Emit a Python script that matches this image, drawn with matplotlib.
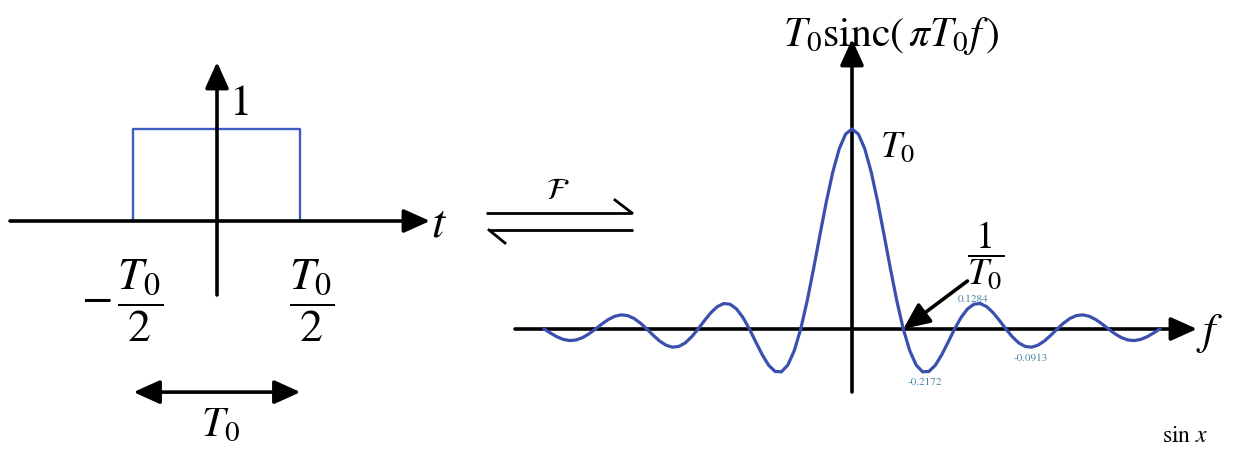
import numpy as np
import matplotlib.pyplot as plt

plt.rcParams['mathtext.fontset'] = 'stix'
plt.rcParams['font.family'] = ['STIXGeneral', 'DejaVu Serif']

# rectangular pulse, t in units of T0
rect_t = [-0.5, -0.5, 0.5, 0.5]
rect_v = [0.0, 1.0, 1.0, 0.0]

# spectrum, f in units of 1/T0 (right half read every 1/8, curve is symmetric)
f_step = 0.125
spec_right = [1.0, 0.9745, 0.9003, 0.7842, 0.6366, 0.4705, 0.3001, 0.1392,
              0.0, -0.1083, -0.1801, -0.2139, -0.2122, -0.1810, -0.1286, -0.0650,
              0.0, 0.0573, 0.1000, 0.1238, 0.1273, 0.1120, 0.0818, 0.0424,
              0.0, -0.0390, -0.0693, -0.0871, -0.0909, -0.0811, -0.0600, -0.0314,
              0.0, 0.0295, 0.0530, 0.0672, 0.0707, 0.0636, 0.0474, 0.0250,
              0.0, -0.0238, -0.0429, -0.0547, -0.0579, -0.0523, -0.0391, -0.0207,
              0.0]
spec_vals = spec_right[:0:-1] + spec_right
spec_f = (np.arange(len(spec_vals)) - (len(spec_right) - 1)) * f_step

# labelled extrema: (f, value, text)
ext_f = [2.36, 1.42, 3.49]
ext_v = [0.155, -0.26, -0.14]
ext_txt = ['0.1284', '-0.2172', '-0.0913']

W, H = 1235, 452
fig = plt.figure(figsize=(W / 100, H / 100), dpi=100)

blue_l = '#3d5cc4'
blue_r = '#3b4fae'
teal = '#4a86a3'
ahead = '-|>,head_length=0.8,head_width=0.36'

def arrow(ax, start, tip, lw=2.6, style=ahead, ms=20):
    ax.annotate('', xy=tip, xytext=start,
                arrowprops=dict(arrowstyle=style, lw=lw, color='k',
                                mutation_scale=ms, shrinkA=0, shrinkB=0))

# ---- background pixel axes for the transform symbol
ax0 = fig.add_axes([0, 0, 1, 1])
ax0.set_xlim(0, W)
ax0.set_ylim(H, 0)
ax0.axis('off')
ax0.plot([486, 632], [214, 214], color='k', lw=2.0, solid_capstyle='butt')
ax0.plot([632, 615], [214, 201], color='k', lw=2.0)
ax0.plot([489, 633], [231, 231], color='k', lw=2.0, solid_capstyle='butt')
ax0.plot([489, 505], [231, 244], color='k', lw=2.0)
ax0.text(558, 192, r'$\mathcal{F}$', fontsize=22, ha='center', va='center')
ax0.text(1185, 447, r'$\sin\,x$', fontsize=17, ha='center', va='bottom')

# ---- left panel: rect(t/T0)
x0, sx, y0, sy = 217, 167.0, 222, 92.0
axl = fig.add_axes([0, 0, 470 / W, 1])
axl.set_xlim((0 - x0) / sx, (470 - x0) / sx)
axl.set_ylim((y0 - H) / sy, y0 / sy)
axl.axis('off')
axl.patch.set_alpha(0)

axl.plot(rect_t, rect_v, color=blue_l, lw=1.7)
arrow(axl, ((10 - x0) / sx, 0), ((430 - x0) / sx, 0))
arrow(axl, (0, (y0 - 296) / sy), (0, (y0 - 63) / sy))
arrow(axl, (-0.5, -1.86), (0.5, -1.86), style='<|-|>,head_length=0.8,head_width=0.36')

axl.text(0.14, 1.27, '1', fontsize=32, ha='center', va='center')
axl.text(1.33, -0.03, r'$t$', fontsize=34, ha='center', va='center')
axl.text(-0.57, -0.86, r'$-\,\dfrac{T_0}{2}$', fontsize=33, ha='center', va='center')
axl.text(0.57, -0.86, r'$\dfrac{T_0}{2}$', fontsize=33, ha='center', va='center')
axl.text(0.02, -2.22, r'$T_0$', fontsize=30, ha='center', va='center')

# ---- right panel: T0 sinc(pi T0 f)
x1, sx1, y1, sy1 = 852, 51.3, 330, 200.0
axr = fig.add_axes([470 / W, 0, (W - 470) / W, 1])
axr.set_xlim((470 - x1) / sx1, (W - x1) / sx1)
axr.set_ylim((y1 - H) / sy1, y1 / sy1)
axr.axis('off')
axr.patch.set_alpha(0)

arrow(axr, ((515 - x1) / sx1, 0), ((1197 - x1) / sx1, 0))
arrow(axr, (0, (y1 - 393) / sy1), (0, (y1 - 40) / sy1))
axr.plot(spec_f, spec_vals, color=blue_r, lw=2.3, zorder=3)

axr.text(0.77, 1.47, r'$T_0\mathrm{sinc}\left(\,\pi T_0 f\,\right)$',
         fontsize=30, ha='center', va='center')
axr.text(0.55, 0.91, r'$T_0$', fontsize=27, ha='left', va='center')
axr.text(2.6, 0.37, r'$\dfrac{1}{T_0}$', fontsize=27, ha='center', va='center')
axr.text(6.98, -0.02, r'$f$', fontsize=32, ha='center', va='center')
arrow(axr, (2.25, 0.24), (1.0, 0.0), lw=2.6)
for f, v, s in zip(ext_f, ext_v, ext_txt):
    axr.text(f, v, s, fontsize=8, color=teal, ha='center', va='center')

fig.savefig('out.png', dpi=100)
